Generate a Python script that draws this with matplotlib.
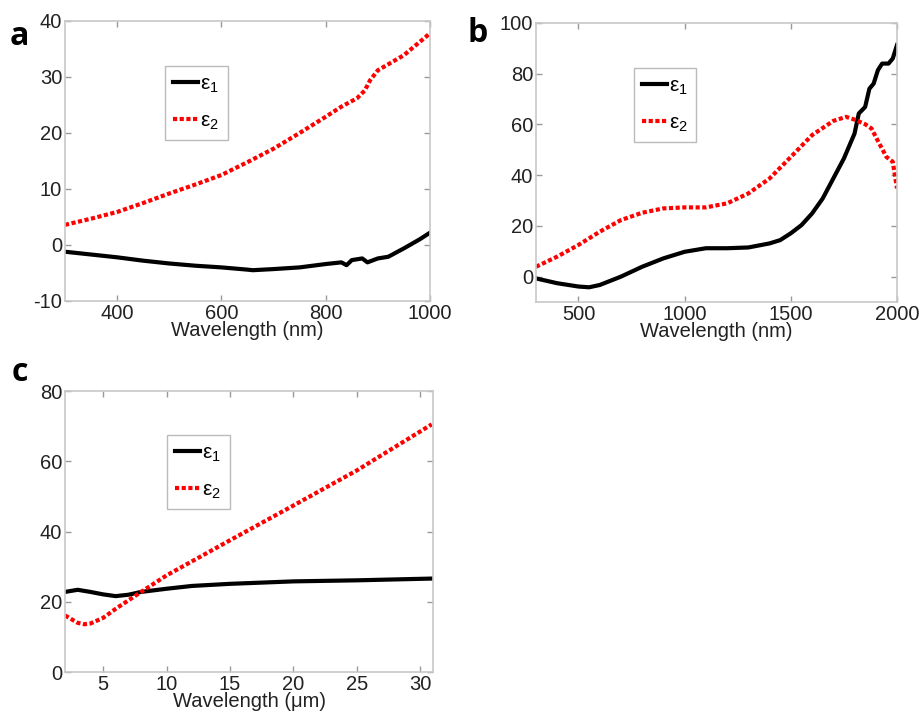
import matplotlib
matplotlib.use('Agg')
import matplotlib.pyplot as plt

plt.rcParams['font.family'] = ['Liberation Sans', 'DejaVu Sans']
plt.rcParams['mathtext.fontset'] = 'custom'
plt.rcParams['mathtext.rm'] = 'Liberation Sans'
plt.rcParams['mathtext.it'] = 'Liberation Sans'
plt.rcParams['axes.unicode_minus'] = False

# panel a (nm)
a_wl1 = [300, 350, 400, 450, 500, 550, 600, 650, 660, 700, 750, 800, 830, 840, 850, 870, 880, 900, 920, 950, 980, 1000]
a_eps1 = [-1.2, -1.7, -2.2, -2.8, -3.3, -3.7, -4.0, -4.4, -4.5, -4.3, -4.0, -3.4, -3.1, -3.6, -2.7, -2.4, -3.1, -2.4, -2.1, -0.6, 1.0, 2.2]
a_wl2 = [300, 350, 400, 450, 500, 550, 600, 650, 700, 750, 800, 830, 860, 875, 885, 900, 950, 1000]
a_eps2 = [3.6, 4.7, 5.9, 7.5, 9.2, 10.8, 12.5, 14.8, 17.2, 20.0, 22.9, 24.7, 26.2, 27.6, 29.4, 31.2, 33.9, 37.8]

# panel b (nm)
b_wl1 = [300, 400, 500, 550, 600, 700, 800, 900, 1000, 1100, 1200, 1300, 1400, 1450, 1500, 1550, 1600, 1650, 1700,
         1750, 1780, 1800, 1820, 1850, 1870, 1890, 1910, 1930, 1960, 1980, 2000]
b_eps1 = [-0.7, -2.6, -3.9, -4.2, -3.3, 0.0, 3.9, 7.2, 9.8, 11.2, 11.2, 11.5, 13.1, 14.4, 17.1, 20.3, 24.9, 30.8, 38.7,
          46.6, 52.5, 56.4, 64.3, 66.9, 74.1, 76.1, 81.4, 84.0, 84.0, 86.0, 91.3]
b_wl2 = [300, 400, 500, 600, 700, 800, 900, 1000, 1100, 1200, 1300, 1400, 1500, 1600, 1700, 1760, 1800, 1850, 1880,
         1900, 1950, 1980, 2000]
b_eps2 = [3.9, 7.9, 12.5, 17.7, 22.3, 25.2, 26.9, 27.3, 27.3, 28.9, 32.8, 38.7, 47.2, 55.8, 61.4, 63.0, 61.9, 60.1, 58.4,
          55.1, 47.2, 45.3, 34.8]

# panel c (um)
c_wl1 = [2, 3, 4, 5, 6, 7, 8, 10, 12, 15, 20, 25, 30.9]
c_eps1 = [22.8, 23.4, 22.8, 22.1, 21.6, 22.0, 22.8, 23.7, 24.5, 25.1, 25.8, 26.1, 26.6]
c_wl2 = [2, 3, 3.5, 4, 5, 6, 7, 8, 10, 15, 20, 25, 30.9]
c_eps2 = [16.1, 14.0, 13.6, 13.8, 15.4, 18.0, 20.4, 22.8, 27.5, 37.5, 47.4, 57.4, 70.5]

W, H = 922, 719
fig = plt.figure(figsize=(W / 100, H / 100), dpi=100)


def make_axes(left, top, right, bottom):
    return fig.add_axes([left / W, (H - bottom) / H, (right - left) / W, (bottom - top) / H])


def style(ax, xlim, ylim, xticks, yticks, xlabel, leg_xy):
    ax.set_xlim(*xlim)
    ax.set_ylim(*ylim)
    ax.set_xticks(xticks)
    ax.set_yticks(yticks)
    for s in ax.spines.values():
        s.set_color('#c8c8c8')
        s.set_linewidth(1.2)
    ax.tick_params(direction='in', length=4, width=1, color='#999999', top=True, right=True,
                   labelsize=14.5, labelcolor='#222222', pad=2)
    ax.set_xlabel(xlabel, fontsize=14.5, color='#222222', labelpad=-1)
    leg = ax.legend(loc='upper left', bbox_to_anchor=leg_xy, borderaxespad=0, handlelength=1.2,
                    handletextpad=0.1, fontsize=15, frameon=True, fancybox=False, borderpad=0.4,
                    labelspacing=0.8)
    leg.get_frame().set_edgecolor('#aaaaaa')
    leg.get_frame().set_linewidth(1.0)


def draw(ax, x1, y1, x2, y2):
    ax.plot(x1, y1, color='black', lw=3, label='ε$_1$')
    ax.plot(x2, y2, color='red', lw=3, linestyle=(0, (1.0, 0.6)), label='ε$_2$')


ax_a = make_axes(65, 21, 430, 301)
draw(ax_a, a_wl1, a_eps1, a_wl2, a_eps2)
style(ax_a, (300, 1000), (-10, 40), [400, 600, 800, 1000], [-10, 0, 10, 20, 30, 40],
      'Wavelength (nm)', (0.274, 0.839))

ax_b = make_axes(536, 23, 897, 302)
draw(ax_b, b_wl1, b_eps1, b_wl2, b_eps2)
style(ax_b, (300, 2000), (-10, 100), [500, 1000, 1500, 2000], [0, 20, 40, 60, 80, 100],
      'Wavelength (nm)', (0.271, 0.839))

ax_c = make_axes(65, 391, 433, 672)
draw(ax_c, c_wl1, c_eps1, c_wl2, c_eps2)
style(ax_c, (2, 31), (0, 80), [5, 10, 15, 20, 25, 30], [0, 20, 40, 60, 80],
      'Wavelength (μm)', (0.277, 0.843))

for lbl, x, y in [('a', 10, 45), ('b', 467, 42), ('c', 12, 381)]:
    fig.text(x / W, (H - y) / H, lbl, fontsize=23, fontweight='bold', family='Open Sans')

fig.savefig('out.png', dpi=100)
